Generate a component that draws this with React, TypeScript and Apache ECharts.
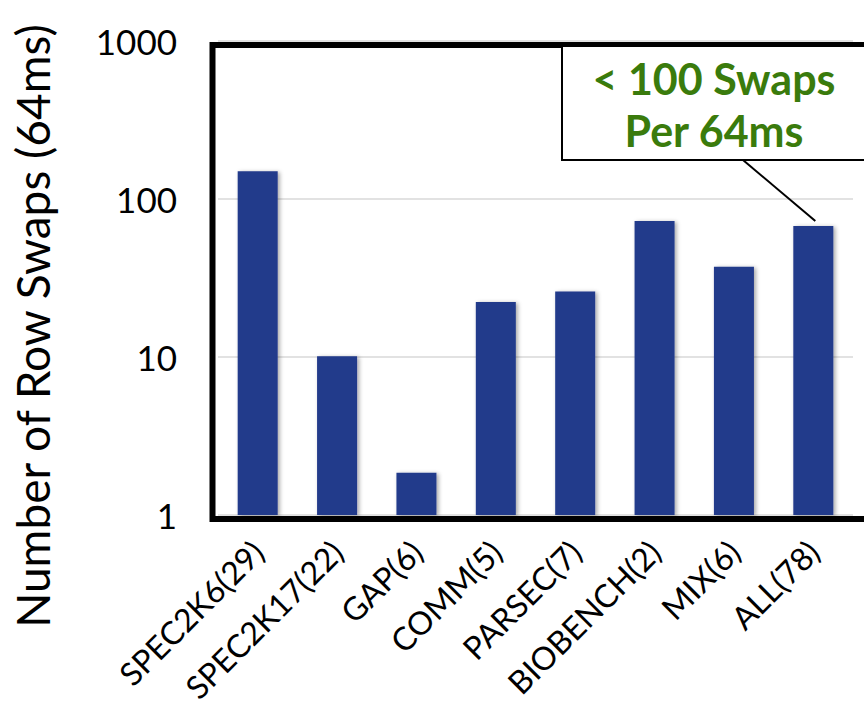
import React, { useEffect, useRef } from "react";
import * as echarts from "echarts";

const categories = [
  "SPEC2K6(29)",
  "SPEC2K17(22)",
  "GAP(6)",
  "COMM(5)",
  "PARSEC(7)",
  "BIOBENCH(2)",
  "MIX(6)",
  "ALL(78)",
];
const swaps = [150, 10.1, 1.85, 22.3, 26, 72.5, 37.2, 67.5];
const yMin = 1;
const yMax = 1000;
const yTitle = "Number of Row Swaps (64ms)";
const noteLines = ["< 100 Swaps", "Per 64ms"];

const W = 864;
const H = 710;
const GRID_LEFT = 218;
const GRID_RIGHT = 11;
const GRID_TOP = 41;
const GRID_BOTTOM = 195;
const FONT = "Lato, 'Open Sans', sans-serif";

export default function App() {
  const ref = useRef<HTMLDivElement>(null);
  useEffect(() => {
    if (!ref.current) return;
    const chart = echarts.init(ref.current, null, { renderer: "svg" });
    chart.setOption({
      animation: false,
      backgroundColor: "#ffffff",
      grid: {
        left: GRID_LEFT,
        right: GRID_RIGHT,
        top: GRID_TOP,
        bottom: GRID_BOTTOM,
        containLabel: false,
        outerBoundsMode: "none",
      },
      xAxis: {
        type: "category",
        data: categories,
        axisLine: { show: false },
        axisTick: { show: false },
        axisLabel: {
          rotate: 45,
          interval: 0,
          margin: 31,
          verticalAlign: "middle",
          color: "#000",
          fontSize: 32,
          fontFamily: FONT,
        },
      },
      yAxis: {
        type: "log",
        logBase: 10,
        min: yMin,
        max: yMax,
        name: yTitle,
        nameLocation: "middle",
        nameGap: 163,
        nameTextStyle: {
          fontSize: 46,
          fontFamily: FONT,
          color: "#000",
          padding: [0, 96, 0, 0],
        },
        axisLine: { show: false },
        axisTick: { show: false },
        axisLabel: {
          margin: 41,
          color: "#000",
          fontSize: 35,
          fontFamily: FONT,
          formatter: (v: number) => String(Math.round(v)),
        },
        splitLine: { lineStyle: { color: "#d9d9d9", width: 1.5 } },
      },
      series: [
        {
          type: "bar",
          data: swaps,
          barWidth: 40,
          itemStyle: {
            color: "#233a8b",
            shadowColor: "rgba(0,0,0,0.35)",
            shadowBlur: 4,
            shadowOffsetX: 2,
            shadowOffsetY: 1,
          },
        },
      ],
    });

    const last = categories.length - 1;
    const pt = chart.convertToPixel({ xAxisIndex: 0, yAxisIndex: 0 }, [
      last,
      swaps[last],
    ]) as number[];
    const frameLeft = GRID_LEFT - 5.5;
    const frameTop = GRID_TOP + 4;
    const frameBottom = H - GRID_BOTTOM + 4;
    const boxLeft = 562;
    const boxTop = 46;
    const boxBottom = 160;

    chart.setOption({
      graphic: [
        {
          type: "polyline",
          z: 100,
          shape: {
            points: [
              [W + 10, frameTop],
              [frameLeft, frameTop],
              [frameLeft, frameBottom],
              [W + 10, frameBottom],
            ],
          },
          style: { stroke: "#000", lineWidth: 6, fill: null, lineJoin: "miter" },
        },
        {
          type: "rect",
          z: 101,
          shape: { x: boxLeft, y: boxTop, width: W + 20 - boxLeft, height: boxBottom - boxTop },
          style: { fill: "#fff", stroke: "#000", lineWidth: 2 },
        },
        {
          type: "line",
          z: 101,
          shape: { x1: 743, y1: boxBottom, x2: pt[0] + 2, y2: pt[1] - 5 },
          style: { stroke: "#000", lineWidth: 2 },
        },
        {
          type: "text",
          z: 102,
          x: 714,
          y: 104,
          style: {
            text: noteLines.join("\n"),
            fill: "#3a7b0c",
            fontSize: 43,
            fontWeight: "bold",
            fontFamily: FONT,
            lineHeight: 52,
            align: "center",
            verticalAlign: "middle",
          },
        },
      ],
    });
    return () => chart.dispose();
  }, []);
  return (
    <div
      ref={ref}
      style={{ position: "absolute", left: 0, top: 0, width: W, height: H }}
    />
  );
}
